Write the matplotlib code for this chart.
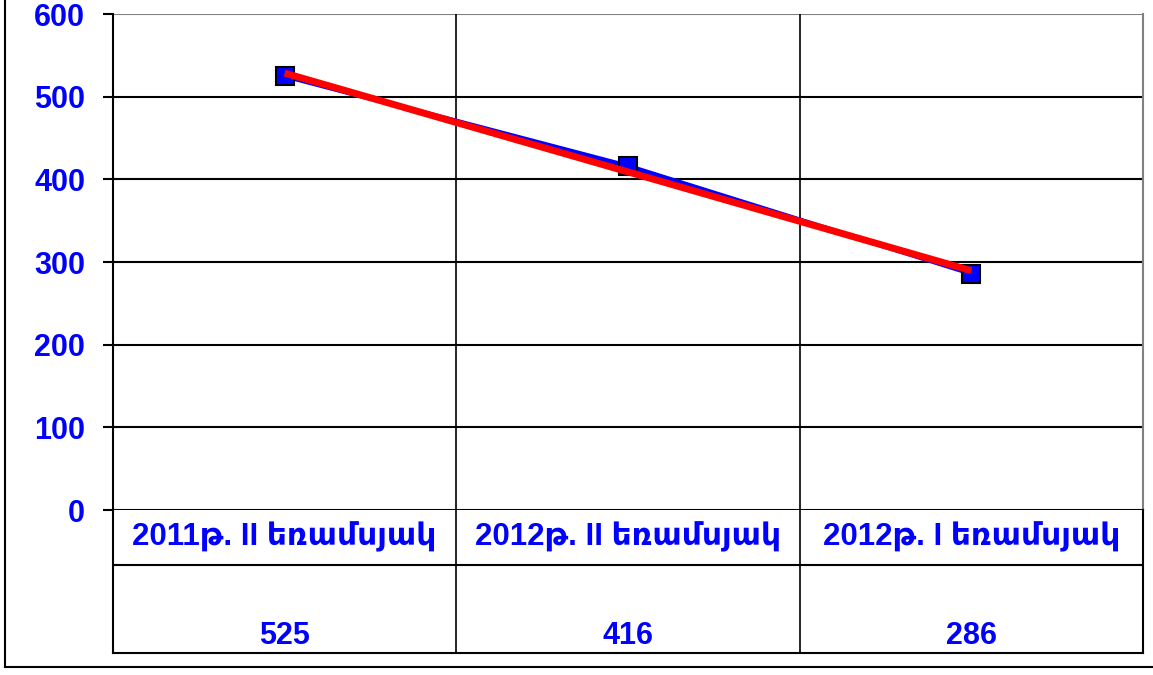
import numpy as np
import matplotlib
matplotlib.use('Agg')
import matplotlib.pyplot as plt
from matplotlib.lines import Line2D

# Data
categories = ['2011թ. II եռամսյակ', '2012թ. II եռամսյակ', '2012թ. I եռամսյակ']
values = [525, 416, 286]

W, H = 1153, 675
fam = ['Liberation Sans', 'DejaVu Sans']
blue = '#0000FF'

fig = plt.figure(figsize=(W / 100, H / 100), dpi=100)

# Plot area in pixels
left, right, top, bottom, tbl_bottom = 113, 1143, 14, 510, 653
ax = fig.add_axes([left / W, (H - bottom) / H, (right - left) / W, (bottom - top) / H])

x = np.arange(1, len(values) + 1)
ax.set_xlim(0.5, len(values) + 0.5)
ax.set_ylim(0, 600)

# gridlines
for yv in range(100, 600, 100):
    ax.axhline(yv, color='black', lw=1.5, zorder=1)
ax.axhline(600, color='#808080', lw=1.5, zorder=1)
for xv in np.arange(1.5, len(values), 1.0):
    ax.axvline(xv, color='black', lw=1.2, zorder=1)

# series and linear trend
ax.plot(x, values, color=blue, lw=3.5, marker='s', markersize=13,
        markerfacecolor=blue, markeredgecolor='black', markeredgewidth=1.5, zorder=3)
coef = np.polyfit(x, values, 1)
ax.plot(x, np.polyval(coef, x), color='red', lw=5, solid_capstyle='butt', zorder=4)

ax.set_xticks([])
ax.set_yticks(range(0, 601, 100))
ax.tick_params(axis='y', direction='out', length=7, width=1.5, pad=13,
               colors='black', labelcolor=blue, labelsize=22)
for lab in ax.get_yticklabels():
    lab.set_fontweight('bold')
    lab.set_family(fam)

ax.spines['top'].set_visible(False)
ax.spines['left'].set_linewidth(1.5)
ax.spines['bottom'].set_linewidth(1.5)
ax.spines['right'].set_color('#808080')
ax.spines['right'].set_linewidth(1.5)

# data table below
tax = fig.add_axes([left / W, (H - tbl_bottom) / H, (right - left) / W, (tbl_bottom - bottom) / H])
tax.set_xlim(0.5, len(values) + 0.5)
tax.set_ylim(0, 1)
tax.set_xticks([])
tax.set_yticks([])
tax.spines['top'].set_visible(False)
for s in ['left', 'right', 'bottom']:
    tax.spines[s].set_linewidth(1.5)
mid = (tbl_bottom - 565) / (tbl_bottom - bottom)
tax.axhline(mid, color='black', lw=1.5)
for xv in np.arange(1.5, len(values), 1.0):
    tax.axvline(xv, color='black', lw=1.2)
for xi, cat, v in zip(x, categories, values):
    tax.text(xi, 0.81, cat, ha='center', va='center', color=blue,
             fontsize=22.5, fontweight='bold', family=fam)
    tax.text(xi, 0.12, str(v), ha='center', va='center', color=blue,
             fontsize=22, fontweight='bold', family=fam)

# outer chart frame (partly cropped)
fig.add_artist(Line2D([5 / W, 5 / W], [(H - 667) / H, 1], color='black', lw=1.5,
                      transform=fig.transFigure))
fig.add_artist(Line2D([5 / W, 1], [(H - 667) / H, (H - 667) / H], color='black', lw=1.5,
                      transform=fig.transFigure))

fig.savefig('out.png', dpi=100)
